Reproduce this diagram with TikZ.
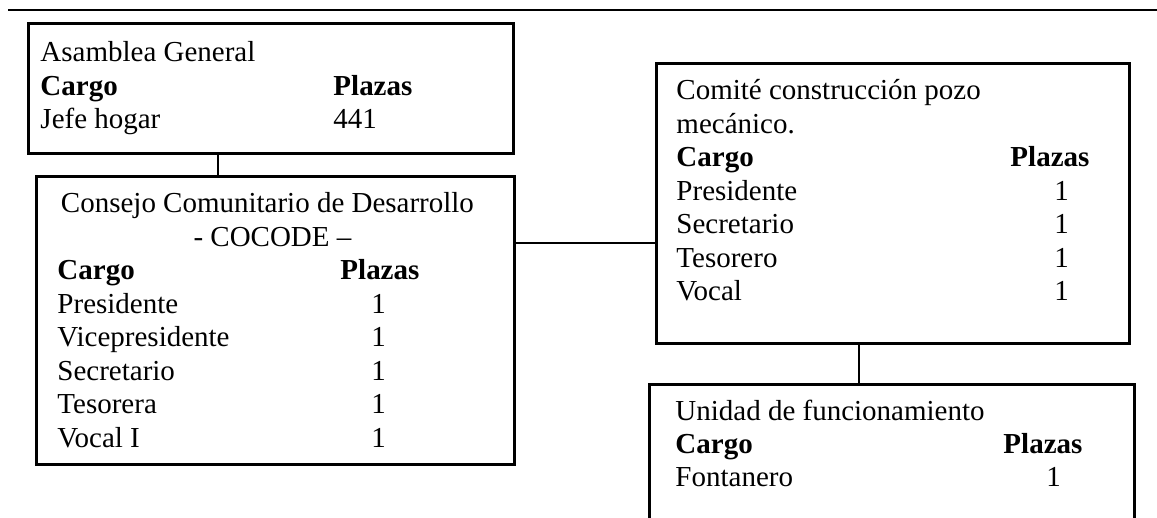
\documentclass[tikz,border=0pt]{standalone}
\usepackage{fontspec}
\setmainfont{Liberation Serif}
\usepackage{array}
\newlength\unitpx
\setlength\unitpx{0.414pt}

\begin{document}
\begin{tikzpicture}[x=0.414pt, y=-0.414pt,
  box/.style={rectangle, draw, line width=1.1pt, inner sep=0pt, anchor=north west},
  txt/.style={anchor=base west, inner sep=0pt, font=\fontsize{12}{13.85}\selectfont},
  con/.style={line width=0.6pt}
]
\useasboundingbox (0,0) rectangle (1157,518);
\clip (0,0) rectangle (1157,518);

% Page rule
\draw[line width=0.8pt] (8,10) -- (1157,10);

% Boxes
\node[box, minimum width=485\unitpx, minimum height=130\unitpx] (asam) at (27,22) {};
\node[box, minimum width=478\unitpx, minimum height=288\unitpx] (cocode) at (35,175) {};
\node[box, minimum width=473\unitpx, minimum height=280\unitpx] (comite) at (655,62) {};
\node[box, minimum width=485\unitpx, minimum height=200\unitpx] (unidad) at (648,383) {};

% Texts
\node[txt] (asamtxt) at (40,62) {\begin{tabular}[t]{@{}p{293\unitpx}@{}l@{}}
Asamblea General & \\
\textbf{Cargo} & \textbf{Plazas} \\
Jefe hogar & 441
\end{tabular}};

\node[txt] (cocodetxt) at (57,213) {\begin{tabular}[t]{@{}p{283\unitpx}@{}l@{}}
\multicolumn{2}{@{}l@{}}{\makebox[420\unitpx]{Consejo Comunitario de Desarrollo}} \\
\multicolumn{2}{@{}l@{}}{\makebox[430\unitpx]{- COCODE –}} \\
\textbf{Cargo} & \textbf{Plazas} \\
Presidente & \hspace{31\unitpx}1 \\
Vicepresidente & \hspace{31\unitpx}1 \\
Secretario & \hspace{31\unitpx}1 \\
Tesorera & \hspace{31\unitpx}1 \\
Vocal I & \hspace{31\unitpx}1
\end{tabular}};

\node[txt] (comitetxt) at (676,100) {\begin{tabular}[t]{@{}p{334\unitpx}@{}l@{}}
\multicolumn{2}{@{}l@{}}{Comité construcción pozo} \\
mecánico. & \\
\textbf{Cargo} & \textbf{Plazas} \\
Presidente & \hspace{44\unitpx}1 \\
Secretario & \hspace{44\unitpx}1 \\
Tesorero & \hspace{44\unitpx}1 \\
Vocal & \hspace{44\unitpx}1
\end{tabular}};

\node[txt] (unidadtxt) at (675,420) {\begin{tabular}[t]{@{}p{328\unitpx}@{}l@{}}
\multicolumn{2}{@{}l@{}}{Unidad de funcionamiento} \\
\textbf{Cargo} & \textbf{Plazas} \\
Fontanero & \hspace{43\unitpx}1
\end{tabular}};

% Connections
\draw[con] (asam.south -| 218,0) -- (cocode.north -| 218,0);
\draw[con] (cocode.east |- 0,243) -- (comite.west |- 0,243);
\draw[con] (comite.south -| 859,0) -- (unidad.north -| 859,0);

\end{tikzpicture}
\end{document}
